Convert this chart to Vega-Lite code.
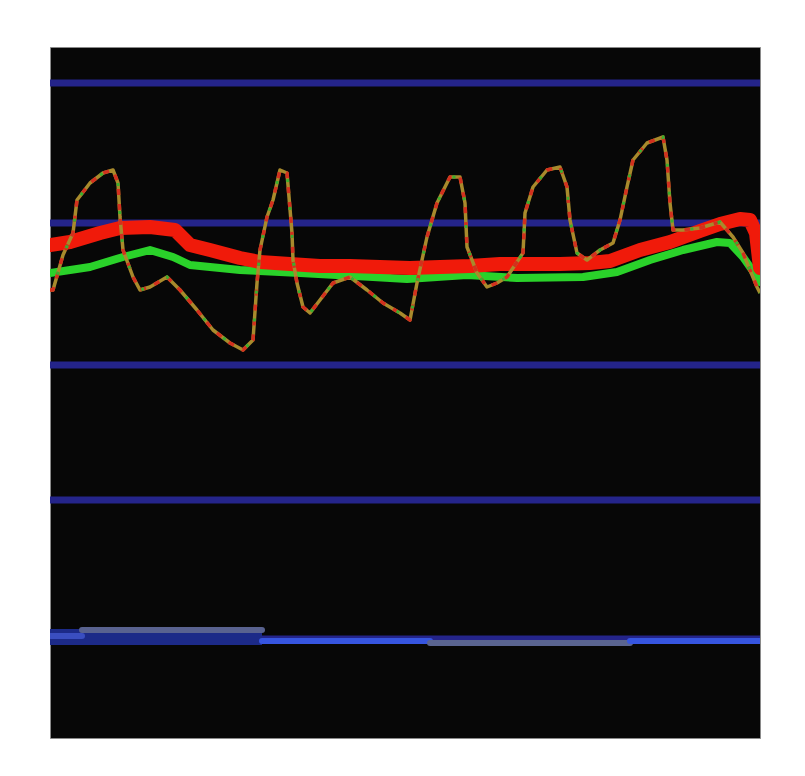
{
  "$schema": "https://vega.github.io/schema/vega-lite/v6.json",
  "width": 710,
  "height": 691,
  "autosize": "none",
  "padding": {"left": 50, "top": 47, "right": 45, "bottom": 38},
  "background": "#ffffff",
  "config": {"view": {"fill": "#070707", "stroke": "#8a8a8a", "strokeWidth": 1}},
  "datasets": {
    "grid": [{"y": 655}, {"y": 515}, {"y": 373}, {"y": 238}, {"y": 99}],
    "red": [
      {"x": 0, "y": 493}, {"x": 20, "y": 496}, {"x": 50, "y": 505}, {"x": 70, "y": 510}, {"x": 100, "y": 511},
      {"x": 125, "y": 508}, {"x": 140, "y": 493}, {"x": 160, "y": 488}, {"x": 190, "y": 480}, {"x": 210, "y": 476},
      {"x": 240, "y": 474}, {"x": 270, "y": 472}, {"x": 300, "y": 472}, {"x": 330, "y": 471}, {"x": 360, "y": 470},
      {"x": 390, "y": 471}, {"x": 420, "y": 472}, {"x": 450, "y": 474}, {"x": 480, "y": 474}, {"x": 510, "y": 474},
      {"x": 540, "y": 475}, {"x": 560, "y": 477}, {"x": 590, "y": 488}, {"x": 620, "y": 496}, {"x": 650, "y": 507},
      {"x": 670, "y": 514}, {"x": 690, "y": 519}, {"x": 700, "y": 518}, {"x": 706, "y": 505}, {"x": 710, "y": 470}
    ],
    "green": [
      {"x": 0, "y": 465}, {"x": 40, "y": 471}, {"x": 73, "y": 481}, {"x": 100, "y": 488}, {"x": 123, "y": 481},
      {"x": 140, "y": 473}, {"x": 190, "y": 468}, {"x": 250, "y": 465}, {"x": 323, "y": 461}, {"x": 357, "y": 459},
      {"x": 417, "y": 463}, {"x": 467, "y": 460}, {"x": 533, "y": 461}, {"x": 567, "y": 466}, {"x": 600, "y": 478},
      {"x": 633, "y": 488}, {"x": 667, "y": 496}, {"x": 680, "y": 495}, {"x": 693, "y": 481}, {"x": 707, "y": 461},
      {"x": 710, "y": 456}
    ],
    "thin": [
      {"x": 0, "y": 448}, {"x": 3, "y": 448}, {"x": 13, "y": 483}, {"x": 23, "y": 505}, {"x": 27, "y": 538},
      {"x": 40, "y": 555}, {"x": 53, "y": 565}, {"x": 63, "y": 568}, {"x": 68, "y": 555}, {"x": 70, "y": 521},
      {"x": 73, "y": 488}, {"x": 83, "y": 461}, {"x": 90, "y": 448}, {"x": 100, "y": 451}, {"x": 117, "y": 461},
      {"x": 130, "y": 448}, {"x": 147, "y": 428}, {"x": 163, "y": 408}, {"x": 180, "y": 395}, {"x": 193, "y": 388},
      {"x": 203, "y": 398}, {"x": 207, "y": 455}, {"x": 210, "y": 488}, {"x": 217, "y": 521}, {"x": 223, "y": 538},
      {"x": 230, "y": 568}, {"x": 237, "y": 565}, {"x": 242, "y": 505}, {"x": 243, "y": 478}, {"x": 247, "y": 455},
      {"x": 253, "y": 431}, {"x": 260, "y": 425}, {"x": 270, "y": 438}, {"x": 283, "y": 455}, {"x": 300, "y": 461},
      {"x": 317, "y": 448}, {"x": 333, "y": 435}, {"x": 350, "y": 425}, {"x": 360, "y": 418}, {"x": 367, "y": 455},
      {"x": 377, "y": 501}, {"x": 387, "y": 535}, {"x": 400, "y": 561}, {"x": 410, "y": 561}, {"x": 415, "y": 535},
      {"x": 417, "y": 491}, {"x": 427, "y": 465}, {"x": 437, "y": 451}, {"x": 447, "y": 455}, {"x": 457, "y": 461},
      {"x": 473, "y": 485}, {"x": 475, "y": 525}, {"x": 483, "y": 551}, {"x": 497, "y": 568}, {"x": 510, "y": 571},
      {"x": 517, "y": 551}, {"x": 520, "y": 518}, {"x": 527, "y": 485}, {"x": 537, "y": 478}, {"x": 550, "y": 488},
      {"x": 563, "y": 495}, {"x": 570, "y": 518}, {"x": 577, "y": 551}, {"x": 583, "y": 578}, {"x": 597, "y": 595},
      {"x": 613, "y": 601}, {"x": 617, "y": 578}, {"x": 620, "y": 535}, {"x": 623, "y": 508}, {"x": 633, "y": 508},
      {"x": 650, "y": 510}, {"x": 670, "y": 516}, {"x": 683, "y": 501}, {"x": 693, "y": 485}, {"x": 700, "y": 468},
      {"x": 707, "y": 451}, {"x": 710, "y": 445}
    ],
    "band": [{"x": 0, "y": 101}, {"x": 212, "y": 101}],
    "blue": [
      {"seg": "a", "x": 0, "y": 102}, {"seg": "a", "x": 32, "y": 102},
      {"seg": "b", "x": 32, "y": 108}, {"seg": "b", "x": 212, "y": 108},
      {"seg": "c", "x": 212, "y": 97}, {"seg": "c", "x": 380, "y": 97},
      {"seg": "d", "x": 380, "y": 95}, {"seg": "d", "x": 580, "y": 95},
      {"seg": "e", "x": 580, "y": 97}, {"seg": "e", "x": 710, "y": 97}
    ]
  },
  "layer": [
    {
      "data": {"name": "grid"},
      "mark": {"type": "rule", "color": "#24248a", "strokeWidth": 7},
      "encoding": {"y": {"field": "y", "type": "quantitative", "scale": {"domain": [0, 691], "nice": false, "zero": false}, "axis": null}}
    },
    {
      "data": {"name": "band"},
      "mark": {"type": "line", "color": "#1c2a88", "strokeWidth": 16, "clip": true},
      "encoding": {
        "x": {"field": "x", "type": "quantitative", "scale": {"domain": [0, 710], "nice": false, "zero": false}, "axis": null},
        "y": {"field": "y", "type": "quantitative", "axis": null}
      }
    },
    {
      "data": {"name": "blue"},
      "mark": {"type": "line", "strokeWidth": 6, "strokeCap": "round", "clip": true},
      "encoding": {
        "x": {"field": "x", "type": "quantitative", "axis": null},
        "y": {"field": "y", "type": "quantitative", "axis": null},
        "detail": {"field": "seg"},
        "color": {"field": "seg", "type": "nominal", "legend": null, "scale": {"domain": ["a", "b", "c", "d", "e"], "range": ["#3a4ec0", "#59628f", "#3655e0", "#5a6490", "#3655e0"]}}
      }
    },
    {
      "data": {"name": "green"},
      "mark": {"type": "line", "color": "#2ad22a", "strokeWidth": 8, "strokeJoin": "round", "strokeCap": "round", "clip": true},
      "encoding": {
        "x": {"field": "x", "type": "quantitative", "axis": null},
        "y": {"field": "y", "type": "quantitative", "axis": null}
      }
    },
    {
      "data": {"name": "red"},
      "mark": {"type": "line", "color": "#f01a0a", "strokeWidth": 14, "strokeJoin": "round", "strokeCap": "round", "clip": true},
      "encoding": {
        "x": {"field": "x", "type": "quantitative", "axis": null},
        "y": {"field": "y", "type": "quantitative", "axis": null}
      }
    },
    {
      "data": {"name": "thin"},
      "mark": {"type": "line", "color": "#a88a2c", "strokeWidth": 3.5, "strokeJoin": "round", "clip": true},
      "encoding": {
        "x": {"field": "x", "type": "quantitative", "axis": null},
        "y": {"field": "y", "type": "quantitative", "axis": null}
      }
    },
    {
      "data": {"name": "thin"},
      "mark": {"type": "line", "color": "#d2301e", "strokeWidth": 3.5, "strokeDash": [6, 9], "strokeJoin": "round", "clip": true},
      "encoding": {
        "x": {"field": "x", "type": "quantitative", "axis": null},
        "y": {"field": "y", "type": "quantitative", "axis": null}
      }
    },
    {
      "data": {"name": "thin"},
      "mark": {"type": "line", "color": "#3cae2e", "strokeWidth": 3, "strokeDash": [3, 25], "strokeDashOffset": 9, "clip": true},
      "encoding": {
        "x": {"field": "x", "type": "quantitative", "axis": null},
        "y": {"field": "y", "type": "quantitative", "axis": null}
      }
    }
  ]
}
